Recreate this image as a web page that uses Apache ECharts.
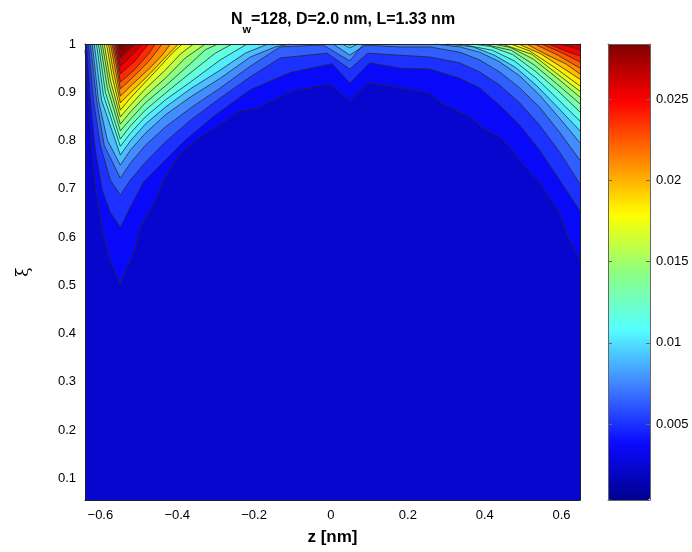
<!DOCTYPE html>
<html><head><meta charset="utf-8">
<script src="https://cdn.jsdelivr.net/npm/echarts@6/dist/echarts.min.js"></script>
<style>html,body{margin:0;padding:0;background:#fff}#c{width:692px;height:552px}</style>
</head><body><div id="c"></div>
<script>
// ---- axis / tick data ----
const Z_TICKS = [-0.6, -0.4, -0.2, 0, 0.2, 0.4, 0.6];
const XI_TICKS = [0.1, 0.2, 0.3, 0.4, 0.5, 0.6, 0.7, 0.8, 0.9, 1];
const CB_TICKS = [0.005, 0.01, 0.015, 0.02, 0.025];
const Z_RANGE = [-0.64, 0.648];
const XI_RANGE = [0.055, 1];
const VALUE_RANGE = [0.000326, 0.02838];
// contour levels (value of each line)
const LEVELS = [0.00164, 0.00298, 0.00431, 0.00565, 0.00699, 0.00833, 0.00967, 0.01100, 0.01234, 0.01368,
                0.01502, 0.01636, 0.01769, 0.01903, 0.02037, 0.02171, 0.02305, 0.02438, 0.02572, 0.02706];

// ---- contour lines: [z, xi] points for each level ----
const L1 = [[-0.640,0.988],[-0.631,0.884],[-0.623,0.780],[-0.610,0.687],[-0.595,0.614],[-0.574,0.548],[-0.548,0.502],[-0.514,0.566],[-0.496,0.620],[-0.457,0.676],[-0.436,0.718],[-0.392,0.774],[-0.340,0.807],[-0.270,0.842],[-0.244,0.859],[-0.192,0.867],[-0.132,0.890],[-0.099,0.902],[-0.003,0.917],[0.049,0.882],[0.096,0.919],[0.153,0.913],[0.257,0.898],[0.283,0.880],[0.361,0.849],[0.395,0.826],[0.439,0.807],[0.465,0.786],[0.491,0.759],[0.543,0.712],[0.595,0.649],[0.613,0.608],[0.648,0.552]];
const L2 = [[-0.636,1],[-0.626,0.884],[-0.613,0.780],[-0.595,0.697],[-0.574,0.651],[-0.548,0.620],[-0.522,0.662],[-0.488,0.714],[-0.444,0.749],[-0.379,0.801],[-0.301,0.853],[-0.210,0.905],[-0.132,0.932],[-0.101,0.942],[0.003,0.959],[0.049,0.919],[0.101,0.961],[0.179,0.950],[0.257,0.948],[0.335,0.929],[0.387,0.909],[0.439,0.873],[0.491,0.832],[0.543,0.780],[0.595,0.718],[0.648,0.654]];
const L3 = [[-0.631,1],[-0.618,0.884],[-0.600,0.790],[-0.574,0.718],[-0.548,0.687],[-0.522,0.718],[-0.483,0.755],[-0.431,0.797],[-0.366,0.842],[-0.288,0.888],[-0.210,0.932],[-0.132,0.971],[-0.010,0.981],[0.049,0.948],[0.096,0.981],[0.257,0.973],[0.335,0.961],[0.387,0.942],[0.439,0.915],[0.491,0.878],[0.543,0.832],[0.595,0.776],[0.648,0.710]];
const L4 = [[-0.626,1],[-0.610,0.884],[-0.590,0.790],[-0.548,0.722],[-0.522,0.753],[-0.483,0.790],[-0.431,0.828],[-0.366,0.867],[-0.288,0.909],[-0.210,0.954],[-0.132,0.994],[-0.021,0.998],[0.049,0.965],[0.083,0.998],[0.174,0.994],[0.257,0.994],[0.335,0.983],[0.387,0.967],[0.439,0.942],[0.491,0.909],[0.543,0.869],[0.595,0.817],[0.648,0.759]];
const L5_LEFT = [[-0.621,1],[-0.605,0.884],[-0.582,0.801],[-0.548,0.749],[-0.522,0.780],[-0.483,0.815],[-0.431,0.853],[-0.366,0.890],[-0.288,0.929],[-0.210,0.973],[-0.145,0.994],[-0.106,1]];
const L5_MID = [[0.005,1],[0.049,0.977],[0.094,1]];
const L5_RIGHT = [[0.270,1],[0.335,0.994],[0.387,0.983],[0.439,0.963],[0.491,0.934],[0.543,0.894],[0.595,0.846],[0.648,0.795]];
const L6_LEFT = [[-0.616,1],[-0.597,0.884],[-0.548,0.770],[-0.522,0.799],[-0.483,0.834],[-0.431,0.869],[-0.366,0.907],[-0.288,0.946],[-0.223,0.981],[-0.164,1]];
const L6_MID = [[0.029,1],[0.049,0.992],[0.070,1]];
const L6_RIGHT = [[0.301,1],[0.370,0.994],[0.425,0.977],[0.481,0.951],[0.536,0.913],[0.591,0.868],[0.648,0.820]];
const L7_LEFT = [[-0.610,1],[-0.592,0.894],[-0.548,0.788],[-0.522,0.815],[-0.483,0.849],[-0.431,0.884],[-0.366,0.921],[-0.288,0.967],[-0.218,1]];
const L7_MID = [[0.042,1],[0.049,0.997],[0.057,1]];
const L7_RIGHT = [[0.335,1],[0.420,0.987],[0.477,0.965],[0.533,0.930],[0.590,0.886],[0.648,0.840]];
const L8_LEFT = [[-0.605,1],[-0.587,0.900],[-0.548,0.803],[-0.522,0.830],[-0.483,0.863],[-0.431,0.898],[-0.366,0.940],[-0.301,0.981],[-0.257,1]];
const L8_RIGHT = [[0.366,1],[0.415,0.995],[0.473,0.978],[0.531,0.944],[0.589,0.904],[0.648,0.859]];
const L9_LEFT = [[-0.600,1],[-0.582,0.909],[-0.548,0.820],[-0.522,0.844],[-0.483,0.878],[-0.431,0.913],[-0.366,0.959],[-0.327,0.988],[-0.294,1]];
const L9_RIGHT = [[0.395,1],[0.469,0.987],[0.528,0.957],[0.587,0.918],[0.648,0.876]];
const L10_LEFT = [[-0.595,1],[-0.577,0.915],[-0.548,0.834],[-0.522,0.859],[-0.483,0.892],[-0.431,0.929],[-0.379,0.971],[-0.327,1]];
const L10_RIGHT = [[0.421,1],[0.466,0.993],[0.526,0.969],[0.586,0.931],[0.648,0.890]];
const L11_LEFT = [[-0.590,1],[-0.574,0.925],[-0.548,0.849],[-0.522,0.873],[-0.483,0.907],[-0.431,0.946],[-0.392,0.979],[-0.358,1]];
const L11_RIGHT = [[0.444,1],[0.522,0.979],[0.584,0.941],[0.648,0.902]];
const L12_LEFT = [[-0.584,1],[-0.569,0.932],[-0.548,0.863],[-0.522,0.888],[-0.483,0.921],[-0.444,0.954],[-0.413,0.981],[-0.387,1]];
const L12_RIGHT = [[0.468,1],[0.516,0.986],[0.581,0.952],[0.648,0.913]];
const L13_LEFT = [[-0.579,1],[-0.566,0.942],[-0.548,0.878],[-0.518,0.902],[-0.474,0.936],[-0.430,0.973],[-0.397,1]];
const L13_RIGHT = [[0.488,1],[0.545,0.980],[0.596,0.954],[0.648,0.927]];
const L14_LEFT = [[-0.574,1],[-0.561,0.946],[-0.548,0.892],[-0.516,0.917],[-0.469,0.952],[-0.437,0.979],[-0.418,1]];
const L14_RIGHT = [[0.509,1],[0.558,0.979],[0.611,0.959],[0.648,0.938]];
const L15_LEFT = [[-0.570,1],[-0.558,0.954],[-0.548,0.907],[-0.514,0.932],[-0.473,0.965],[-0.439,1]];
const L15_RIGHT = [[0.530,1],[0.590,0.977],[0.648,0.950]];
const L16_LEFT = [[-0.566,1],[-0.556,0.961],[-0.548,0.921],[-0.512,0.946],[-0.475,0.979],[-0.457,1]];
const L16_RIGHT = [[0.548,1],[0.603,0.981],[0.648,0.963]];
const L17_LEFT = [[-0.562,1],[-0.548,0.938],[-0.510,0.965],[-0.475,1]];
const L17_RIGHT = [[0.566,1],[0.619,0.983],[0.648,0.975]];
const L18_LEFT = [[-0.558,1],[-0.548,0.954],[-0.515,0.979],[-0.491,1]];
const L18_RIGHT = [[0.590,1],[0.623,0.994],[0.648,0.988]];
const L19_LEFT = [[-0.555,1],[-0.548,0.971],[-0.527,0.988],[-0.509,1]];
const L20_LEFT = [[-0.551,1],[-0.548,0.988],[-0.540,0.994],[-0.527,1]];

// [level number (1-based), points]
const PIECES = [
  [1, L1], [2, L2], [3, L3], [4, L4],
  [5, L5_LEFT], [5, L5_MID], [5, L5_RIGHT],
  [6, L6_LEFT], [6, L6_MID], [6, L6_RIGHT],
  [7, L7_LEFT], [7, L7_MID], [7, L7_RIGHT],
  [8, L8_LEFT], [8, L8_RIGHT], [9, L9_LEFT], [9, L9_RIGHT],
  [10, L10_LEFT], [10, L10_RIGHT], [11, L11_LEFT], [11, L11_RIGHT],
  [12, L12_LEFT], [12, L12_RIGHT], [13, L13_LEFT], [13, L13_RIGHT],
  [14, L14_LEFT], [14, L14_RIGHT], [15, L15_LEFT], [15, L15_RIGHT],
  [16, L16_LEFT], [16, L16_RIGHT], [17, L17_LEFT], [17, L17_RIGHT],
  [18, L18_LEFT], [18, L18_RIGHT], [19, L19_LEFT], [20, L20_LEFT]
];

// ---- colormap (jet-like, as rendered in the reference) ----
const JET = ['#00008f', '#0a0aff', '#4080ff', '#55ffff', '#8cff80', '#ffff00', '#ff8000', '#ff0000', '#800000'];
function hex2rgb(h) { return [1, 3, 5].map(i => parseInt(h.substr(i, 2), 16)); }
function cmap(v) {
  let f = (v - VALUE_RANGE[0]) / (VALUE_RANGE[1] - VALUE_RANGE[0]);
  f = Math.max(0, Math.min(1, f)) * (JET.length - 1);
  const i = Math.min(JET.length - 2, Math.floor(f)), t = f - i;
  const a = hex2rgb(JET[i]), b = hex2rgb(JET[i + 1]);
  const c = a.map((x, j) => Math.round(x + (b[j] - x) * t));
  return 'rgb(' + c.join(',') + ')';
}
// colour of the band lying above level k (k = 0 : below the first level)
function bandColor(k) {
  const lo = LEVELS[k] !== undefined ? LEVELS[k] : VALUE_RANGE[1];
  const hi = LEVELS[k + 1] !== undefined ? LEVELS[k + 1] : VALUE_RANGE[1];
  return cmap((lo + hi) / 2);
}

const FONT = 'Liberation Sans, Arial, Helvetica, sans-serif';
const fmtMinus = v => String(+(+v).toFixed(3)).replace('-', '\u2212');

const series = [];
PIECES.forEach(([k, pts]) => {
  series.push({
    type: 'line', xAxisIndex: 0, yAxisIndex: 0, data: pts, symbol: 'none', silent: true, z: 2,
    lineStyle: { width: 0, opacity: 0 },
    areaStyle: { origin: 'end', color: bandColor(k), opacity: 1 }
  });
});
PIECES.forEach(([k, pts]) => {
  series.push({
    type: 'line', xAxisIndex: 0, yAxisIndex: 0, data: pts, symbol: 'none', silent: true, z: 3,
    lineStyle: { width: 0.9, color: 'rgba(40,40,40,0.85)' }
  });
});
const dummyIndex = series.length;
series.push({ type: 'scatter', xAxisIndex: 2, yAxisIndex: 2, data: [], silent: true });

const boxLine = { show: true, onZero: false, lineStyle: { color: '#222', width: 1 } };
const cbLine = { show: true, onZero: false, lineStyle: { color: '#666', width: 1 } };

const option = {
  animation: false,
  backgroundColor: '#fff',
  textStyle: { fontFamily: FONT },
  title: {
    text: '{b|N}{s|w}{b|=128, D=2.0 nm, L=1.33 nm}',
    left: 338, top: 7, textAlign: 'center',
    textStyle: {
      rich: {
        b: { fontSize: 16, fontWeight: 'bold', color: '#000', fontFamily: FONT, lineHeight: 20, verticalAlign: 'top' },
        s: { fontSize: 11, fontWeight: 'bold', color: '#000', fontFamily: FONT, lineHeight: 12, padding: [12, 0, 0, 0], verticalAlign: 'top' }
      }
    }
  },
  grid: [
    { left: 85, top: 44, width: 495, height: 456, show: true, backgroundColor: bandColor(0), borderWidth: 0 },
    { left: 608, top: 44, width: 42, height: 456 }
  ],
  xAxis: [
    { type: 'value', gridIndex: 0, min: Z_RANGE[0], max: Z_RANGE[1], position: 'bottom', z: 10,
      axisLine: boxLine, axisTick: { show: false }, splitLine: { show: false },
      axisLabel: { customValues: Z_TICKS, formatter: fmtMinus, fontSize: 13, color: '#000', margin: 9, fontFamily: FONT },
      name: 'z [nm]', nameLocation: 'middle', nameGap: 29,
      nameTextStyle: { fontSize: 17, fontWeight: 'bold', color: '#000', fontFamily: FONT } },
    { type: 'value', gridIndex: 0, min: Z_RANGE[0], max: Z_RANGE[1], position: 'top', z: 10,
      axisLine: boxLine, axisTick: { show: false }, splitLine: { show: false }, axisLabel: { show: false } },
    { type: 'value', gridIndex: 1, min: 0, max: 1, position: 'bottom', z: 10,
      axisLine: cbLine, axisTick: { show: false }, splitLine: { show: false }, axisLabel: { show: false } },
    { type: 'value', gridIndex: 1, min: 0, max: 1, position: 'top', z: 10,
      axisLine: cbLine, axisTick: { show: false }, splitLine: { show: false }, axisLabel: { show: false } }
  ],
  yAxis: [
    { type: 'value', gridIndex: 0, min: XI_RANGE[0], max: XI_RANGE[1], position: 'left', z: 10,
      axisLine: boxLine, axisTick: { show: false }, splitLine: { show: false },
      axisLabel: { customValues: XI_TICKS, formatter: fmtMinus, fontSize: 13, color: '#000', margin: 9, fontFamily: FONT },
      name: '\u03be', nameLocation: 'middle', nameGap: 53, nameRotate: 90,
      nameTextStyle: { fontSize: 17, color: '#000', fontFamily: 'DejaVu Serif' } },
    { type: 'value', gridIndex: 0, min: XI_RANGE[0], max: XI_RANGE[1], position: 'right', z: 10,
      axisLine: boxLine, axisTick: { show: false }, splitLine: { show: false }, axisLabel: { show: false } },
    { type: 'value', gridIndex: 1, min: VALUE_RANGE[0], max: VALUE_RANGE[1], position: 'right', z: 10,
      axisLine: cbLine, splitLine: { show: false },
      axisTick: { show: true, inside: true, length: 4, customValues: CB_TICKS, lineStyle: { color: '#666' } },
      axisLabel: { customValues: CB_TICKS, formatter: fmtMinus, fontSize: 13, color: '#000', margin: 6, fontFamily: FONT } },
    { type: 'value', gridIndex: 1, min: VALUE_RANGE[0], max: VALUE_RANGE[1], position: 'left', z: 10,
      axisLine: cbLine, splitLine: { show: false }, axisLabel: { show: false },
      axisTick: { show: true, inside: true, length: 4, customValues: CB_TICKS, lineStyle: { color: '#666' } } }
  ],
  visualMap: {
    type: 'continuous', min: VALUE_RANGE[0], max: VALUE_RANGE[1], seriesIndex: dummyIndex,
    left: 608, top: 44, itemWidth: 42, itemHeight: 456, padding: 0, z: 4,
    calculable: false, hoverLink: false, text: null, inRange: { color: JET }
  },
  series: series
};
const chart = echarts.init(document.getElementById('c'));
chart.setOption(option);
</script></body></html>
